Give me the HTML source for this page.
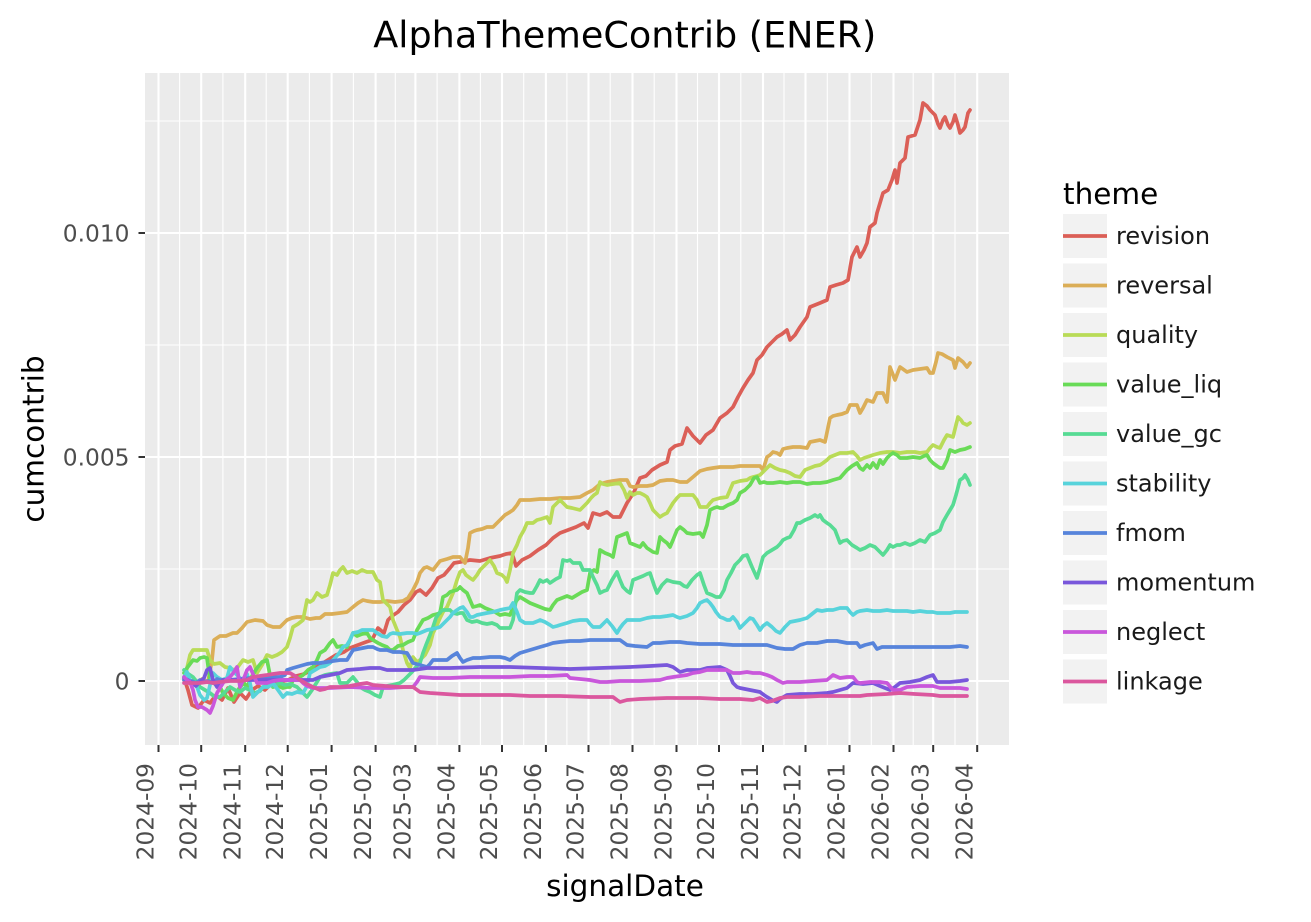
<!DOCTYPE html>
<html><head><meta charset="utf-8"><style>
html,body{margin:0;padding:0;background:#fff;}
svg{display:block;font-family:"DejaVu Sans","Liberation Sans",sans-serif;}
.tk{font-size:23.3px;fill:#4d4d4d;}
.lg{font-size:24px;fill:#1a1a1a;}
.ser{fill:none;stroke-width:3.7;stroke-linejoin:round;stroke-linecap:round;}
</style></head><body>
<svg width="1311" height="922" viewBox="0 0 1311 922" xmlns="http://www.w3.org/2000/svg">
<rect x="0" y="0" width="1311" height="922" fill="#fff"/>
<text x="373.3" y="47.3" font-size="36.5" textLength="503" lengthAdjust="spacingAndGlyphs" fill="#000">AlphaThemeContrib (ENER)</text>
<!-- panel -->
<rect x="145" y="73" width="864" height="672" fill="#ebebeb"/>
<g stroke="#fff" stroke-width="1.1">
<line x1="145" x2="1009" y1="121" y2="121"/>
<line x1="145" x2="1009" y1="345" y2="345"/>
<line x1="145" x2="1009" y1="569" y2="569"/>
<line x1="179.6" x2="179.6" y1="73" y2="745"/>
<line x1="222.9" x2="222.9" y1="73" y2="745"/>
<line x1="266.2" x2="266.2" y1="73" y2="745"/>
<line x1="309.4" x2="309.4" y1="73" y2="745"/>
<line x1="353.4" x2="353.4" y1="73" y2="745"/>
<line x1="395.3" x2="395.3" y1="73" y2="745"/>
<line x1="437.1" x2="437.1" y1="73" y2="745"/>
<line x1="480.4" x2="480.4" y1="73" y2="745"/>
<line x1="523.7" x2="523.7" y1="73" y2="745"/>
<line x1="566.9" x2="566.9" y1="73" y2="745"/>
<line x1="610.2" x2="610.2" y1="73" y2="745"/>
<line x1="654.2" x2="654.2" y1="73" y2="745"/>
<line x1="697.5" x2="697.5" y1="73" y2="745"/>
<line x1="740.8" x2="740.8" y1="73" y2="745"/>
<line x1="784.0" x2="784.0" y1="73" y2="745"/>
<line x1="827.3" x2="827.3" y1="73" y2="745"/>
<line x1="871.3" x2="871.3" y1="73" y2="745"/>
<line x1="913.2" x2="913.2" y1="73" y2="745"/>
<line x1="955.0" x2="955.0" y1="73" y2="745"/>
</g>
<g stroke="#fff" stroke-width="2.1">
<line x1="145" x2="1009" y1="233" y2="233"/>
<line x1="145" x2="1009" y1="457" y2="457"/>
<line x1="145" x2="1009" y1="681" y2="681"/>
<line x1="158.5" x2="158.5" y1="73" y2="745"/>
<line x1="201.2" x2="201.2" y1="73" y2="745"/>
<line x1="245.2" x2="245.2" y1="73" y2="745"/>
<line x1="287.7" x2="287.7" y1="73" y2="745"/>
<line x1="331.6" x2="331.6" y1="73" y2="745"/>
<line x1="375.6" x2="375.6" y1="73" y2="745"/>
<line x1="415.4" x2="415.4" y1="73" y2="745"/>
<line x1="459.4" x2="459.4" y1="73" y2="745"/>
<line x1="502.0" x2="502.0" y1="73" y2="745"/>
<line x1="545.9" x2="545.9" y1="73" y2="745"/>
<line x1="588.5" x2="588.5" y1="73" y2="745"/>
<line x1="632.5" x2="632.5" y1="73" y2="745"/>
<line x1="676.5" x2="676.5" y1="73" y2="745"/>
<line x1="719.0" x2="719.0" y1="73" y2="745"/>
<line x1="763.0" x2="763.0" y1="73" y2="745"/>
<line x1="805.5" x2="805.5" y1="73" y2="745"/>
<line x1="849.5" x2="849.5" y1="73" y2="745"/>
<line x1="893.5" x2="893.5" y1="73" y2="745"/>
<line x1="933.2" x2="933.2" y1="73" y2="745"/>
<line x1="977.2" x2="977.2" y1="73" y2="745"/>
</g>
<!-- series -->
<polyline class="ser" stroke="#db5f57" points="185,681 188,690 192,705 198,708 204,700 210,703 216,695 222,700 228,688 234,702 240,693 246,699 252,690 258,686 265,690 272,683 280,682 288,680 296,676 304,674 312,670 320,665 328,660 336,655 344,652 350,648 358,645 366,642 372,640 378,628 384,633 388,620 392,616 398,612 404,605 410,600 416,592 420,590 426,595 432,588 438,578 444,575 450,568 454,563 460,562 470,560 480,561 490,558 500,556 506,554 512,553 516,566 522,560 530,556 538,550 546,545 553,538 560,533 568,530 576,527 584,523 588,528 593,513 600,515 607,512 613,517 620,517 627,503 634,492 640,478 646,476 652,470 660,465 667,462 670,450 675,446 682,444 687,428 693,436 700,443 706,435 713,430 720,418 727,413 733,407 738,397 743,388 748,380 753,373 757,360 762,355 767,347 772,342 777,337 782,334 787,330 790,340 795,335 800,327 807,317 810,307 815,305 820,303 827,300 830,287 836,285 843,283 848,280 852,257 857,247 860,257 864,250 867,243 870,227 875,223 877,213 883,193 888,190 892,180 895,170 897,183 900,163 905,158 908,137 915,135 920,120 923,103 927,106 930,110 935,115 938,124 940,128 943,120 945,117 948,125 950,128 953,122 955,115 958,125 960,133 963,130 965,127 968,113 970,110"/>
<polyline class="ser" stroke="#dbae57" points="185,683 190,680 196,684 202,679 208,682 212,660 214,640 220,636 226,636 233,633 237,633 242,628 247,622 255,620 263,621 267,625 273,627 280,627 287,620 292,618 297,617 303,617 310,619 316,618 320,618 325,614 332,614 340,613 347,612 353,607 358,603 363,600 367,601 373,602 380,602 387,601 395,602 403,601 408,598 413,590 417,582 420,573 424,568 427,567 433,570 440,561 447,559 453,557 460,557 465,563 468,548 470,533 474,531 477,530 482,529 487,527 493,527 500,520 505,515 510,512 513,510 517,505 520,500 523,500 530,500 540,499 550,499 560,498 570,498 580,497 587,493 593,490 600,484 607,482 613,481 620,480 627,480 630,486 633,487 640,486 647,486 653,485 660,481 667,480 673,480 680,482 687,482 693,477 700,471 707,469 713,468 720,467 727,467 733,467 740,466 750,466 760,466 763,470 767,457 770,455 773,452 777,453 780,455 783,449 787,448 793,447 800,447 807,448 810,442 815,441 820,440 825,442 830,418 833,416 837,415 842,414 847,412 850,405 857,405 860,413 863,408 867,400 873,402 877,393 883,393 887,402 890,367 895,380 898,372 900,367 907,372 913,370 920,369 927,368 930,373 933,373 936,362 938,353 942,354 947,357 953,360 955,368 958,358 963,362 967,367 970,363"/>
<polyline class="ser" stroke="#b9db57" points="184,680 187,668 190,655 193,650 200,650 207,650 210,660 214,664 220,663 225,667 230,668 234,670 237,668 243,660 248,662 253,660 257,673 262,665 267,655 272,657 277,655 282,652 287,647 290,638 293,627 298,624 303,620 307,600 310,602 313,600 317,593 322,597 327,595 330,585 333,573 337,575 340,570 343,567 347,573 352,571 357,573 362,570 367,572 373,572 377,580 380,582 383,600 387,604 390,607 393,620 397,630 400,637 403,650 407,663 410,668 413,657 417,662 420,660 425,655 430,645 433,633 437,625 440,618 443,612 447,607 450,600 453,593 457,580 460,572 463,570 466,575 470,578 473,580 477,575 480,570 485,565 490,560 494,566 497,573 502,575 505,578 507,582 510,570 513,553 517,545 520,537 524,530 527,523 533,523 537,520 541,519 547,517 550,523 553,507 557,503 560,500 563,503 567,507 572,508 576,509 580,510 584,506 587,503 591,498 594,495 597,493 600,482 603,484 607,485 613,484 620,483 624,490 627,498 630,492 633,495 637,493 640,493 644,495 647,497 650,503 653,510 657,514 660,517 663,515 667,513 670,508 673,503 677,498 680,495 687,495 693,495 697,500 700,507 707,507 710,503 713,500 720,498 727,497 730,490 733,483 740,481 747,480 750,478 753,477 757,476 760,475 765,470 770,465 775,468 780,470 785,471 790,473 795,476 800,477 805,470 810,468 815,466 820,465 823,463 827,460 830,457 835,455 840,453 847,453 853,452 857,456 860,460 864,458 867,457 873,455 880,453 887,452 893,452 900,453 907,452 915,452 920,453 927,452 930,448 933,445 937,447 940,448 944,440 947,435 950,436 953,437 956,425 958,417 961,420 963,423 967,425 970,423"/>
<polyline class="ser" stroke="#69db57" points="184,673 187,668 190,664 193,660 197,661 200,658 204,657 207,658 210,680 215,684 220,687 223,693 228,698 233,700 237,692 240,687 244,683 247,687 252,676 257,668 262,662 267,660 270,675 273,687 278,686 283,688 287,687 290,687 293,680 298,678 303,675 308,670 313,667 317,660 320,653 325,650 330,643 333,640 337,647 342,646 347,647 350,640 353,633 357,636 362,634 367,633 370,638 373,640 378,643 382,645 387,647 390,650 393,650 398,646 403,645 408,642 413,640 417,630 420,625 423,620 428,618 433,615 437,614 440,613 443,597 447,595 450,592 453,591 457,590 460,587 463,590 467,593 470,600 473,607 477,606 480,605 485,608 490,610 495,612 500,615 505,614 510,615 513,607 517,600 520,597 525,600 530,603 535,605 540,607 545,609 550,610 553,605 557,600 562,598 567,596 572,598 577,595 582,592 587,590 590,573 594,570 597,572 600,550 605,553 610,555 613,557 617,537 622,535 627,533 630,543 635,545 640,547 643,543 647,548 650,550 653,552 657,553 660,537 663,540 667,543 670,547 673,540 677,530 680,527 684,530 687,533 693,534 700,533 703,537 707,525 710,510 714,508 717,507 720,508 723,508 728,505 733,503 737,500 740,493 745,490 750,485 754,478 757,477 760,483 764,482 767,483 773,483 780,482 787,483 793,482 800,482 807,484 813,483 820,483 827,482 833,480 840,478 847,470 852,466 857,463 860,468 863,470 867,465 870,468 873,463 877,468 880,460 883,464 887,458 890,455 893,453 897,455 900,458 907,458 913,457 920,458 924,456 927,455 930,460 933,463 937,466 940,468 943,468 947,460 950,450 955,452 960,450 965,449 970,447"/>
<polyline class="ser" stroke="#57db94" points="184,670 187,673 190,675 193,677 197,682 200,687 205,690 210,693 215,697 220,697 225,692 230,687 235,690 240,692 245,688 250,690 255,693 260,691 263,687 268,685 273,686 280,683 285,685 290,684 297,687 302,692 307,697 312,690 317,682 320,677 325,675 330,674 337,673 340,683 344,683 347,683 350,680 353,677 357,682 360,687 365,690 370,692 375,695 380,697 383,687 387,686 392,685 396,684 400,683 404,680 407,677 412,672 416,667 420,663 423,653 426,645 430,635 433,627 436,618 440,612 443,610 447,610 450,610 453,613 457,614 460,613 463,613 467,620 472,622 477,621 482,623 487,624 492,623 497,625 500,628 505,628 510,628 513,620 517,593 520,590 525,592 530,593 533,593 537,586 540,580 543,582 547,580 550,583 553,581 556,579 560,577 563,560 567,561 570,560 573,563 577,563 580,563 583,570 587,570 590,570 593,577 597,585 600,593 604,591 607,590 612,580 617,572 620,580 623,587 627,591 630,593 633,580 638,578 643,576 647,574 650,573 654,585 657,593 662,585 667,580 673,582 680,583 684,586 687,587 692,580 697,575 700,573 704,585 707,593 712,595 716,597 720,597 724,590 727,580 731,573 735,565 740,560 743,556 747,555 752,567 757,578 760,568 763,557 767,553 772,550 777,547 780,544 783,540 787,538 790,537 794,530 797,523 800,523 805,520 810,518 815,515 818,517 820,515 823,520 827,523 830,525 835,530 840,543 843,541 847,540 852,545 857,548 860,550 865,548 870,545 875,547 880,552 883,555 887,550 890,545 893,547 897,545 900,545 905,543 910,545 915,543 920,540 925,542 930,535 935,533 940,530 943,522 947,515 950,510 953,505 956,495 960,480 963,478 965,475 968,480 970,485"/>
<polyline class="ser" stroke="#57d3db" points="184,677 187,672 190,680 193,682 197,687 200,695 204,700 207,698 210,685 213,673 217,677 222,680 227,678 230,667 234,672 238,676 242,680 247,674 250,683 253,697 258,692 263,687 268,687 273,683 278,690 283,697 287,693 292,694 297,692 303,693 307,686 310,673 315,670 320,667 325,666 330,663 335,658 340,652 343,647 347,645 350,640 353,633 358,632 362,630 367,630 373,630 377,633 382,636 387,637 390,634 393,633 400,634 407,633 413,633 417,634 420,633 427,630 433,629 440,627 443,624 447,620 450,617 453,613 457,610 460,608 463,607 467,612 470,617 473,617 477,615 482,614 487,613 493,612 500,610 505,609 510,608 513,603 517,612 520,620 525,623 530,623 533,623 538,621 540,620 545,622 550,625 553,627 557,626 560,625 567,623 573,621 580,620 587,620 590,624 593,627 600,627 603,624 607,620 612,626 617,633 620,628 623,624 627,620 633,620 640,620 647,618 653,617 660,617 667,616 673,615 677,617 680,618 687,616 693,613 697,608 700,603 704,601 707,600 710,603 713,607 716,612 720,617 723,618 727,620 730,620 733,617 737,622 740,628 745,623 750,618 753,619 757,625 760,630 763,626 767,623 772,627 776,631 780,633 785,627 790,622 795,621 800,620 807,618 812,614 817,610 822,611 827,610 833,610 840,608 847,608 850,612 853,615 857,612 860,611 867,610 873,611 880,611 887,610 893,611 900,611 907,611 913,612 920,611 927,612 933,612 937,613 943,613 950,613 955,612 960,612 967,612"/>
<polyline class="ser" stroke="#5784db" points="184,680 188,682 192,681 196,683 200,680 204,682 208,681 213,683 217,679 220,680 230,680 240,679 250,678 260,678 270,677 280,677 285,675 287,670 293,668 300,666 307,664 313,663 320,663 327,662 333,661 340,660 347,660 350,655 353,650 358,649 363,648 368,647 373,647 377,649 380,650 387,650 393,652 400,652 407,653 410,658 413,663 420,665 427,667 430,664 433,660 440,660 447,660 452,656 457,653 460,658 463,662 467,660 473,658 480,658 490,657 500,657 505,658 510,660 515,656 520,653 530,650 540,647 547,645 553,643 560,642 570,641 580,641 590,640 600,640 607,640 615,640 620,640 627,645 635,646 647,647 653,643 660,643 670,642 680,642 687,643 700,644 710,644 720,644 733,645 745,645 753,645 767,645 777,648 785,649 793,649 800,645 807,643 817,643 827,641 837,641 847,643 857,643 860,647 865,645 873,643 877,649 882,647 890,647 900,647 910,647 920,647 930,647 940,647 950,647 960,646 967,647"/>
<polyline class="ser" stroke="#7957db" points="184,678 188,680 192,683 196,686 200,682 204,678 207,670 210,668 213,680 217,687 220,684 223,680 233,680 250,680 270,680 290,680 313,680 320,677 330,675 340,673 347,670 360,669 370,668 380,668 387,670 400,670 413,670 427,668 450,668 480,667 510,667 540,668 570,669 600,668 630,667 650,666 667,665 673,667 680,672 687,670 700,670 707,668 720,667 727,670 730,676 733,683 737,687 740,688 750,690 760,692 764,695 767,697 772,700 777,702 780,699 787,695 800,694 813,694 827,693 833,692 840,690 847,688 853,683 863,684 873,683 880,686 890,690 895,687 900,683 910,682 920,680 927,677 933,675 937,682 940,682 950,682 960,681 967,680"/>
<polyline class="ser" stroke="#c957db" points="184,677 187,680 190,682 193,690 195,700 198,707 202,707 207,710 210,713 213,706 217,693 220,688 223,683 227,679 230,677 234,672 237,667 240,687 244,678 247,670 250,667 253,674 257,683 262,683 267,683 273,681 280,680 287,680 293,680 300,680 303,683 307,686 313,688 330,688 350,687 370,688 390,688 405,687 413,687 417,682 420,677 433,678 450,678 470,677 490,677 510,677 530,676 550,676 567,675 570,678 580,679 590,680 600,682 607,682 620,681 640,681 660,680 667,678 673,677 680,676 687,675 693,673 700,672 707,670 717,670 727,670 733,673 740,673 747,672 753,673 760,673 767,675 772,677 777,680 783,683 787,682 800,682 813,681 827,680 833,675 840,678 847,677 853,677 857,682 860,683 870,682 880,682 887,683 893,690 900,690 907,687 920,686 933,686 940,688 950,688 960,688 967,689"/>
<polyline class="ser" stroke="#db579e" points="184,683 190,683 200,683 207,682 213,683 220,682 230,681 240,681 247,680 253,677 260,676 267,675 273,674 280,673 285,673 290,673 295,676 300,680 307,684 313,687 320,690 325,689 330,687 340,687 350,686 360,684 367,683 373,685 385,686 400,687 413,687 420,692 430,693 445,694 460,695 473,695 480,695 495,695 510,695 530,696 560,696 590,697 613,697 617,700 620,702 627,700 640,699 667,698 673,698 700,698 720,699 740,699 753,700 760,698 767,702 772,701 780,698 787,697 800,697 820,696 840,696 860,696 867,695 887,694 900,693 915,694 933,695 940,696 967,696"/>
<!-- y axis -->
<g stroke="#333" stroke-width="2">
<line x1="138.5" x2="145" y1="233" y2="233"/>
<line x1="138.5" x2="145" y1="457" y2="457"/>
<line x1="138.5" x2="145" y1="681" y2="681"/>
</g>
<text class="tk" x="129.5" y="241.5" text-anchor="end">0.010</text>
<text class="tk" x="129.5" y="465.5" text-anchor="end">0.005</text>
<text class="tk" x="129.5" y="689.5" text-anchor="end">0</text>
<text transform="translate(43.3,439) rotate(-90)" text-anchor="middle" font-size="29.5" fill="#000">cumcontrib</text>
<!-- x axis -->
<g stroke="#333" stroke-width="2">
<line x1="158.5" x2="158.5" y1="745" y2="752"/>
<line x1="201.2" x2="201.2" y1="745" y2="752"/>
<line x1="245.2" x2="245.2" y1="745" y2="752"/>
<line x1="287.7" x2="287.7" y1="745" y2="752"/>
<line x1="331.6" x2="331.6" y1="745" y2="752"/>
<line x1="375.6" x2="375.6" y1="745" y2="752"/>
<line x1="415.4" x2="415.4" y1="745" y2="752"/>
<line x1="459.4" x2="459.4" y1="745" y2="752"/>
<line x1="502.0" x2="502.0" y1="745" y2="752"/>
<line x1="545.9" x2="545.9" y1="745" y2="752"/>
<line x1="588.5" x2="588.5" y1="745" y2="752"/>
<line x1="632.5" x2="632.5" y1="745" y2="752"/>
<line x1="676.5" x2="676.5" y1="745" y2="752"/>
<line x1="719.0" x2="719.0" y1="745" y2="752"/>
<line x1="763.0" x2="763.0" y1="745" y2="752"/>
<line x1="805.5" x2="805.5" y1="745" y2="752"/>
<line x1="849.5" x2="849.5" y1="745" y2="752"/>
<line x1="893.5" x2="893.5" y1="745" y2="752"/>
<line x1="933.2" x2="933.2" y1="745" y2="752"/>
<line x1="977.2" x2="977.2" y1="745" y2="752"/>
</g>
<g class="tk" text-anchor="end">
<text transform="translate(153.7,763) rotate(-90)">2024-09</text>
<text transform="translate(196.4,763) rotate(-90)">2024-10</text>
<text transform="translate(240.4,763) rotate(-90)">2024-11</text>
<text transform="translate(282.9,763) rotate(-90)">2024-12</text>
<text transform="translate(326.8,763) rotate(-90)">2025-01</text>
<text transform="translate(370.8,763) rotate(-90)">2025-02</text>
<text transform="translate(410.6,763) rotate(-90)">2025-03</text>
<text transform="translate(454.6,763) rotate(-90)">2025-04</text>
<text transform="translate(497.2,763) rotate(-90)">2025-05</text>
<text transform="translate(541.1,763) rotate(-90)">2025-06</text>
<text transform="translate(583.7,763) rotate(-90)">2025-07</text>
<text transform="translate(627.7,763) rotate(-90)">2025-08</text>
<text transform="translate(671.7,763) rotate(-90)">2025-09</text>
<text transform="translate(714.2,763) rotate(-90)">2025-10</text>
<text transform="translate(758.2,763) rotate(-90)">2025-11</text>
<text transform="translate(800.7,763) rotate(-90)">2025-12</text>
<text transform="translate(844.7,763) rotate(-90)">2026-01</text>
<text transform="translate(888.7,763) rotate(-90)">2026-02</text>
<text transform="translate(928.4,763) rotate(-90)">2026-03</text>
<text transform="translate(972.4,763) rotate(-90)">2026-04</text>
</g>
<text x="625" y="896" text-anchor="middle" font-size="29.5" fill="#000">signalDate</text>
<!-- legend -->
<text x="1063" y="204" font-size="29.5" fill="#000">theme</text>
<g fill="#f2f2f2">
<rect x="1063" y="214" width="44" height="44"/>
<rect x="1063" y="263.5" width="44" height="44"/>
<rect x="1063" y="313" width="44" height="44"/>
<rect x="1063" y="362.5" width="44" height="44"/>
<rect x="1063" y="412" width="44" height="44"/>
<rect x="1063" y="461.5" width="44" height="44"/>
<rect x="1063" y="511" width="44" height="44"/>
<rect x="1063" y="560.5" width="44" height="44"/>
<rect x="1063" y="610" width="44" height="44"/>
<rect x="1063" y="659.5" width="44" height="44"/>
</g>
<g stroke-width="3.7">
<line x1="1063" x2="1107" y1="236" y2="236" stroke="#db5f57"/>
<line x1="1063" x2="1107" y1="285.5" y2="285.5" stroke="#dbae57"/>
<line x1="1063" x2="1107" y1="335" y2="335" stroke="#b9db57"/>
<line x1="1063" x2="1107" y1="384.5" y2="384.5" stroke="#69db57"/>
<line x1="1063" x2="1107" y1="434" y2="434" stroke="#57db94"/>
<line x1="1063" x2="1107" y1="483.5" y2="483.5" stroke="#57d3db"/>
<line x1="1063" x2="1107" y1="533" y2="533" stroke="#5784db"/>
<line x1="1063" x2="1107" y1="582.5" y2="582.5" stroke="#7957db"/>
<line x1="1063" x2="1107" y1="632" y2="632" stroke="#c957db"/>
<line x1="1063" x2="1107" y1="681.5" y2="681.5" stroke="#db579e"/>
</g>
<g class="lg">
<text x="1116" y="243.8">revision</text>
<text x="1116" y="293.3">reversal</text>
<text x="1116" y="342.8">quality</text>
<text x="1116" y="392.3">value_liq</text>
<text x="1116" y="441.8">value_gc</text>
<text x="1116" y="491.3">stability</text>
<text x="1116" y="540.8">fmom</text>
<text x="1116" y="590.3">momentum</text>
<text x="1116" y="639.8">neglect</text>
<text x="1116" y="689.3">linkage</text>
</g>
</svg>
</body></html>
